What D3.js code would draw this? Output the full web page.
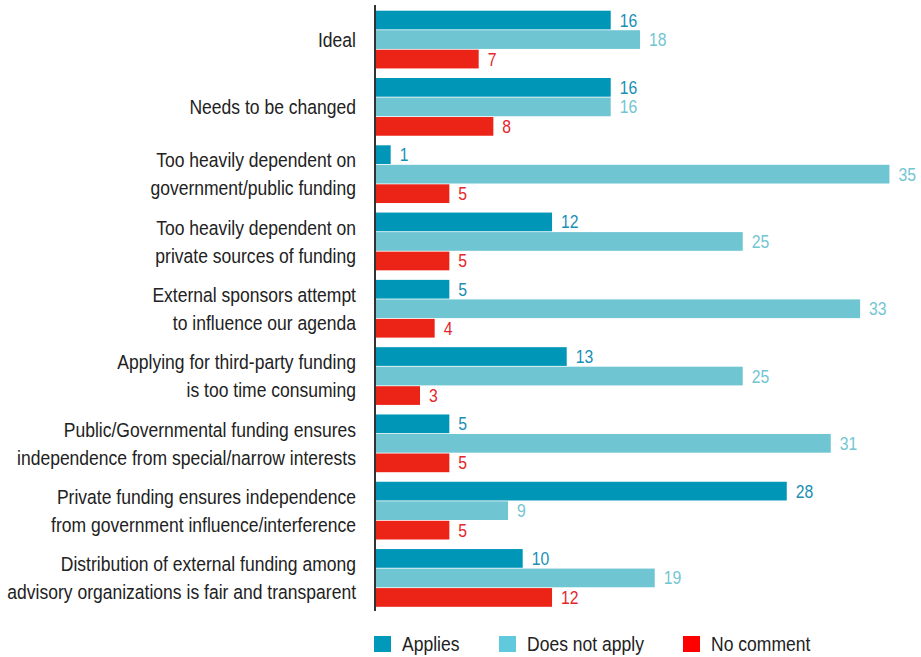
<!DOCTYPE html>
<html>
<head>
<meta charset="utf-8">
<script src="https://cdn.jsdelivr.net/npm/d3@7"></script>
<style>
  html, body { margin: 0; padding: 0; background: #fff; }
  svg text { font-family: "Liberation Sans", Arial, sans-serif; }
</style>
</head>
<body>
<svg id="chart" width="921" height="657"></svg>
<script>
const categories = [
  ["Ideal"],
  ["Needs to be changed"],
  ["Too heavily dependent on", "government/public funding"],
  ["Too heavily dependent on", "private sources of funding"],
  ["External sponsors attempt", "to influence our agenda"],
  ["Applying for third-party funding", "is too time consuming"],
  ["Public/Governmental funding ensures", "independence from special/narrow interests"],
  ["Private funding ensures independence", "from government influence/interference"],
  ["Distribution of external funding among", "advisory organizations is fair and transparent"]
];
const seriesNames = ["Applies", "Does not apply", "No comment"];
const applies      = [16, 16, 1, 12, 5, 13, 5, 28, 10];
const doesNotApply = [18, 16, 35, 25, 33, 25, 31, 9, 19];
const noComment    = [7, 8, 5, 5, 4, 3, 5, 5, 12];
const seriesValues = [applies, doesNotApply, noComment];

const barColors   = ["#0096b8", "#6fc6d2", "#ec2418"];
const labelColors = ["#1a8fb3", "#72c5d2", "#e5262a"];
const legendColors = ["#0099b9", "#60c9dd", "#ff0000"];

const svg = d3.select("#chart");

// horizontal condensing factor so the widest label matches the reference width (~349px)
const probe = svg.append("text").attr("font-size", 19.5).text(categories[8][1]);
const kx = 349 / probe.node().getComputedTextLength();
probe.remove();

function addText(parent, x, y, str, size, color, anchor) {
  return parent.append("text")
    .attr("transform", `translate(${x},${y}) scale(${kx},1)`)
    .attr("dy", "0.35em")
    .attr("font-size", size)
    .attr("fill", color)
    .attr("text-anchor", anchor || "start")
    .text(str);
}

const x0 = 376;
const x = d3.scaleLinear().domain([0, 35]).range([x0, x0 + 35 * 14.67]);
const idx = d3.range(categories.length);
const y = d3.scaleBand().domain(idx).range([10.7, 607.6]).paddingInner(0.13).paddingOuter(0);
const ySub = d3.scaleBand().domain(d3.range(3)).range([0, y.bandwidth()]).paddingInner(0);

const groups = svg.append("g").selectAll("g").data(idx).join("g")
  .attr("transform", d => `translate(0,${y(d)})`);

seriesValues.forEach((vals, s) => {
  groups.append("rect")
    .attr("x", x(0))
    .attr("y", ySub(s))
    .attr("width", d => x(vals[d]) - x(0))
    .attr("height", ySub.bandwidth() - 0.8)
    .attr("fill", barColors[s]);
  groups.each(function(d) {
    addText(d3.select(this), x(vals[d]) + 9, ySub(s) + ySub.bandwidth() / 2, vals[d], 17.5, labelColors[s]);
  });
});

// axis line
svg.append("line")
  .attr("x1", 375).attr("x2", 375)
  .attr("y1", 5).attr("y2", 611)
  .attr("stroke", "#333").attr("stroke-width", 2);

// category labels
const lineGap = 28;
groups.each(function(d) {
  const lines = categories[d];
  const cy = y.bandwidth() / 2;
  lines.forEach((ln, i) => {
    addText(d3.select(this), 356, cy + (i - (lines.length - 1) / 2) * lineGap, ln, 19.5, "#222", "end");
  });
});

// legend
const legendX = [374, 499, 683];
const legend = svg.append("g");
seriesNames.forEach((n, i) => {
  legend.append("rect").attr("x", legendX[i]).attr("y", 636).attr("width", 17).attr("height", 16).attr("fill", legendColors[i]);
  addText(legend, legendX[i] + 28, 644, n, 19.5, "#222");
});
</script>
</body>
</html>
